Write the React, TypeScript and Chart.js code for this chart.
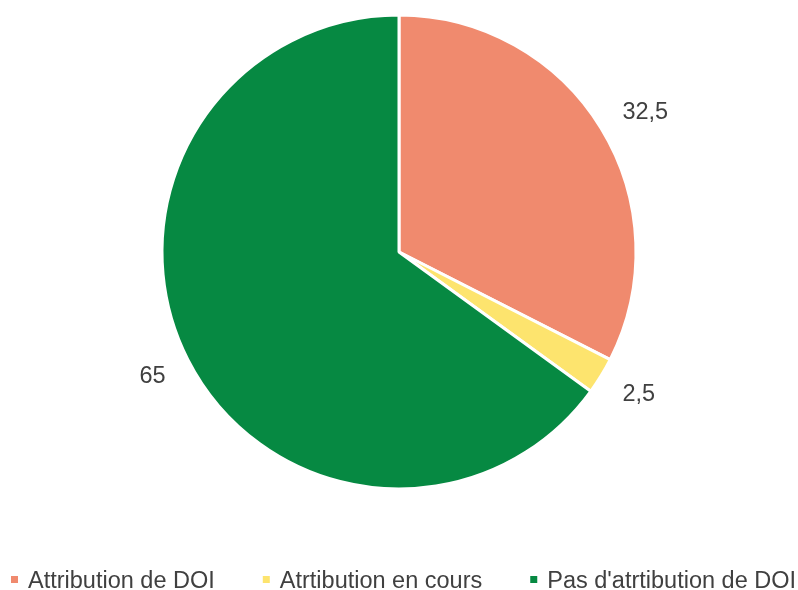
import React, { useEffect, useRef } from "react";
import { Chart, registerables } from "chart.js";

Chart.register(...registerables);

const categories = ["Attribution de DOI", "Atrtibution en cours", "Pas d'atrtibution de DOI"];
const values = [32.5, 2.5, 65];
const valueLabels = ["32,5", "2,5", "65"];
const colors = ["#F08A6E", "#FDE46E", "#068942"];

const FONT = "23.5px 'Liberation Sans', Arial, sans-serif";
const TEXT_COLOR = "#404040";

const outsideLabels = {
  id: "outsideLabels",
  afterDatasetsDraw(chart: any) {
    const ctx = chart.ctx;
    const meta = chart.getDatasetMeta(0);
    ctx.save();
    ctx.font = FONT;
    ctx.fillStyle = TEXT_COLOR;
    ctx.textAlign = "center";
    ctx.textBaseline = "alphabetic";
    meta.data.forEach((arc: any, i: number) => {
      const { x, y, startAngle, endAngle, outerRadius } = arc.getProps(
        ["x", "y", "startAngle", "endAngle", "outerRadius"],
        true
      );
      const mid = (startAngle + endAngle) / 2;
      const hw = ctx.measureText(valueLabels[i]).width / 2;
      const hh = 8;
      const D = outerRadius + 25;
      const c = Math.cos(mid);
      const s = Math.sin(mid);
      const cx = x + c * D + Math.sign(c) * hw;
      const cy = y + s * D + s * hh;
      ctx.fillText(valueLabels[i], cx, cy + 8);
    });
    ctx.restore();
  },
};

const customLegend = {
  id: "customLegend",
  afterDraw(chart: any) {
    const ctx = chart.ctx;
    ctx.save();
    ctx.font = FONT;
    const box = 7;
    const gapText = 10;
    const gapItem = 48;
    let x = 11;
    const baseline = 588;
    categories.forEach((c, i) => {
      ctx.fillStyle = colors[i];
      ctx.fillRect(x, 576, box, box);
      ctx.fillStyle = TEXT_COLOR;
      ctx.textAlign = "left";
      ctx.textBaseline = "alphabetic";
      ctx.fillText(c, x + box + gapText, baseline);
      x += box + gapText + ctx.measureText(c).width + gapItem;
    });
    ctx.restore();
  },
};

export default function App() {
  const ref = useRef<HTMLCanvasElement>(null);
  useEffect(() => {
    const chart = new Chart(ref.current!, {
      type: "pie",
      data: {
        labels: categories,
        datasets: [
          {
            data: values,
            backgroundColor: colors,
            borderColor: "#FFFFFF",
            borderWidth: 3,
            hoverOffset: 0,
          },
        ],
      },
      options: {
        animation: false,
        responsive: false,
        maintainAspectRatio: false,
        layout: { padding: { top: 13.5, bottom: 99.5, left: 0, right: 0 } },
        plugins: {
          legend: { display: false },
          tooltip: { enabled: false },
        },
      },
      plugins: [outsideLabels, customLegend],
    });
    return () => chart.destroy();
  }, []);
  return (
    <div style={{ position: "fixed", left: 0, top: 0, width: 798, height: 590, background: "#fff" }}>
      <canvas ref={ref} width={798} height={590} style={{ width: 798, height: 590 }} />
    </div>
  );
}
